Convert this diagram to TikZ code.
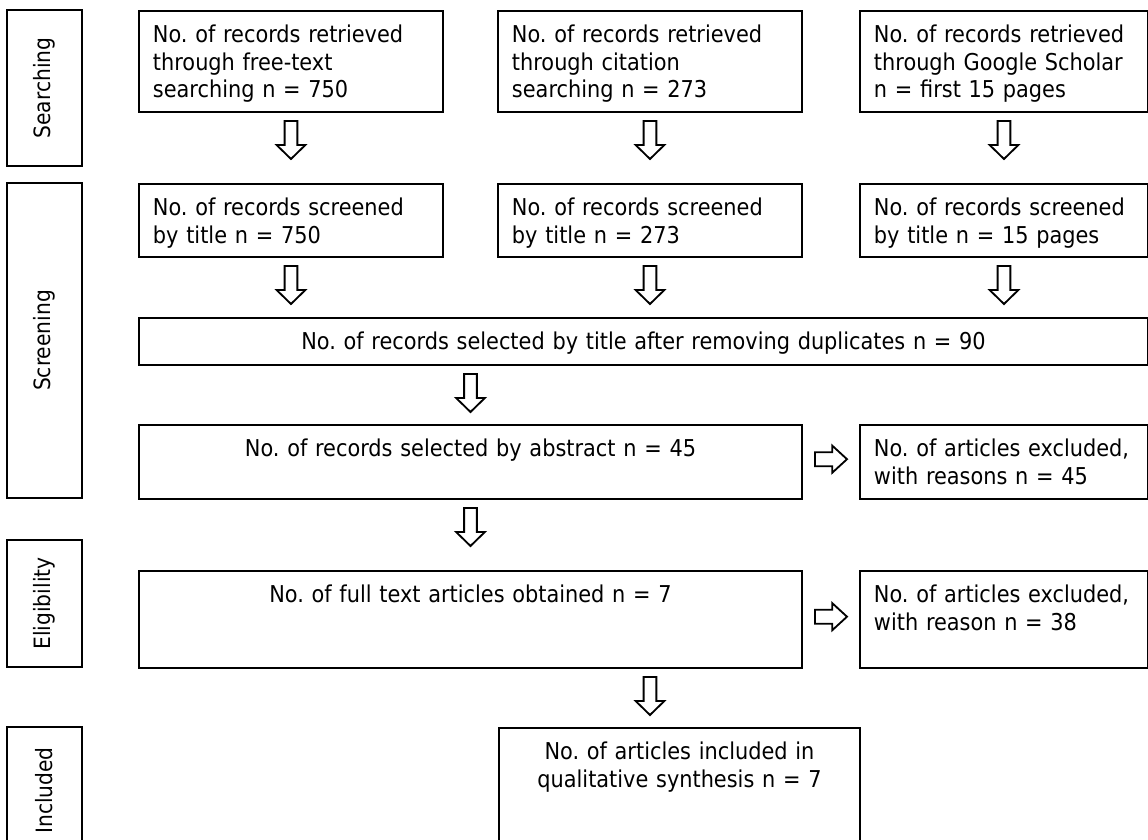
\documentclass[tikz,border=0pt]{standalone}
\usepackage{fontspec}
\setmainfont{DejaVu Sans Condensed}
\frenchspacing
\usepackage{tikz}
\usetikzlibrary{calc}
\tikzset{recbox/.style = {draw, line width = 1.4pt, anchor = north west, inner xsep = 0.35cm, inner ysep = 0.25cm, text height = 0.54cm, font = \fontsize{16.5}{19.6}\selectfont}}
\tikzset{stagebox/.style = {draw, line width = 1.4pt, rotate = 90, minimum height = 1.875cm, inner sep = 0, font = \fontsize{16}{19.6}\selectfont}}
\tikzset{downarr/.pic = {\draw [line width = 1.3pt] (-0.16, 0) -- (0.16, 0) -- (0.16, -0.6) -- (0.36, -0.6) -- (0, -0.95) -- (-0.36, -0.6) -- (-0.16, -0.6) -- cycle;}}
\tikzset{rightarr/.pic = {\draw [line width = 1.3pt] (-0.4, 0.175) -- (0.03, 0.175) -- (0.03, 0.34) -- (0.4, 0) -- (0.03, -0.34) -- (0.03, -0.175) -- (-0.4, -0.175) -- cycle;}}

\begin{document}
\begin{tikzpicture}
      \clip (0, 0) rectangle (28.7, -20.975);

      \node [stagebox, minimum width = 3.9cm] (sear) at (1.1125, -2.2) {Searching};
      \node [stagebox, minimum width = 7.875cm] (scr) at (1.1125, -8.5125) {Screening};
      \node [stagebox, minimum width = 3.175cm] (elig) at (1.1125, -15.0875) {Eligibility};
      \node [stagebox, minimum width = 3.175cm] (incl) at (1.1125, -19.7625) {Included};

      \node [recbox, text width = 6.9cm, text depth = 1.485cm, align = left] (a1) at (3.45, -0.25) {No. of records retrieved\\through free-text\\searching n = 750};
      \node [recbox, text width = 6.9cm, text depth = 1.485cm, align = left] (a2) at (12.425, -0.25) {No. of records retrieved\\through citation\\searching n = 273};
      \node [recbox, text width = 6.5cm, text depth = 1.485cm, align = left] (a3) at (21.475, -0.25) {No. of records retrieved\\through Google Scholar\\n = first 15 pages};

      \node [recbox, text width = 6.9cm, text depth = 0.785cm, align = left] (b1) at (3.45, -4.575) {No. of records screened\\by title n = 750};
      \node [recbox, text width = 6.9cm, text depth = 0.785cm, align = left] (b2) at (12.425, -4.575) {No. of records screened\\by title n = 273};
      \node [recbox, text width = 6.5cm, text depth = 0.785cm, align = left] (b3) at (21.475, -4.575) {No. of records screened\\by title n = 15 pages};

      \node [recbox, text width = 24.525cm, text depth = 0.135cm, align = center] (c) at (3.45, -7.925) {No. of records selected by title after removing duplicates n = 90};

      \node [recbox, text width = 15.875cm, text depth = 0.81cm, align = center] (d) at (3.45, -10.6) {No. of records selected by abstract n = 45};
      \node [recbox, text width = 6.5cm, text depth = 0.81cm, align = left] (e) at (21.475, -10.6) {No. of articles excluded,\\with reasons n = 45};

      \node [recbox, text width = 15.875cm, text depth = 1.385cm, align = center] (f) at (3.45, -14.25) {No. of full text articles obtained n = 7};
      \node [recbox, text width = 6.5cm, text depth = 1.385cm, align = left] (g) at (21.475, -14.25) {No. of articles excluded,\\with reason n = 38};

      \node [recbox, text width = 8.325cm, text depth = 3cm, align = center] (h) at (12.45, -18.175) {No. of articles included in\\qualitative synthesis n = 7};

      \path (a1.south) ++(0, -0.2) pic {downarr};
      \path (a2.south) ++(0, -0.2) pic {downarr};
      \path (a3.south) ++(0, -0.2) pic {downarr};
      \path (b1.south) ++(0, -0.2) pic {downarr};
      \path (b2.south) ++(0, -0.2) pic {downarr};
      \path (b3.south) ++(0, -0.2) pic {downarr};
      \path (d.north |- c.south) ++(0, -0.2) pic {downarr};
      \path (d.south) ++(0, -0.2) pic {downarr};
      \path (b2.south |- f.south) ++(0, -0.2) pic {downarr};
      \path ($(d.east)!0.5!(e.west)$) ++(0, 0.07) pic {rightarr};
      \path ($(f.east)!0.5!(g.west)$) ++(0, 0.07) pic {rightarr};
    \end{tikzpicture}
\end{document}
